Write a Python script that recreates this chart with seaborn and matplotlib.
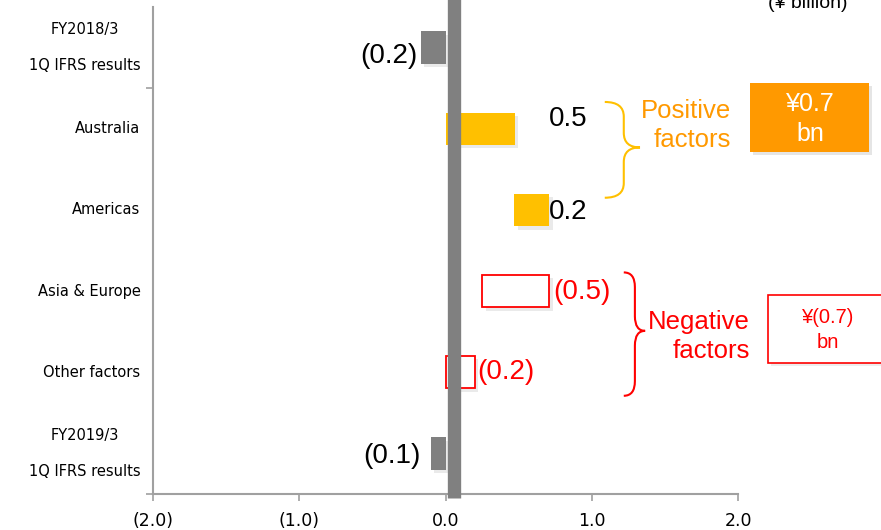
import matplotlib
matplotlib.use('Agg')
import matplotlib.pyplot as plt
import matplotlib.patheffects as pe
from matplotlib.path import Path
from matplotlib.patches import PathPatch, Rectangle
from matplotlib.ticker import FixedLocator, FuncFormatter
import seaborn as sns

# Waterfall data (¥ billion)
categories = ['FY2018/3\n1Q IFRS results', 'Australia', 'Americas',
              'Asia & Europe', 'Other factors', 'FY2019/3\n1Q IFRS results']
bar_start = [0.0, 0.0, 0.47, 0.71, 0.2, 0.0]
bar_end = [-0.17, 0.475, 0.71, 0.25, 0.0, -0.1]
value_labels = ['(0.2)', '0.5', '0.2', '(0.5)', '(0.2)', '(0.1)']
kinds = ['total', 'pos', 'pos', 'neg', 'neg', 'total']

GRAY = '#808080'
YELLOW = '#FFC000'
ORANGE = '#FF9900'
RED = '#FF0000'

sns.set_theme(style='white')
plt.rcParams['font.family'] = ['DejaVu Sans']
plt.rcParams['text.color'] = 'black'
plt.rcParams['xtick.color'] = 'black'
plt.rcParams['ytick.color'] = 'black'

fig = plt.figure(figsize=(8.81, 5.30), dpi=100)
ax = fig.add_axes([153 / 881, 1 - 494 / 530, (738 - 153) / 881, (494 - 7) / 530])

shadow = [pe.SimplePatchShadow(offset=(2.5, -2.5), shadow_rgbFace='#999999', alpha=0.2), pe.Normal()]

ypos = list(range(len(categories)))
for y, s, e, k in zip(ypos, bar_start, bar_end, kinds):
    left = min(s, e)
    width = abs(e - s)
    if k == 'total':
        b = ax.barh(y, width, left=left, height=0.4, color=GRAY, edgecolor='none')
    elif k == 'pos':
        b = ax.barh(y, width, left=left, height=0.4, color=YELLOW, edgecolor='none')
    else:
        b = ax.barh(y, width, left=left, height=0.4, facecolor='white',
                    edgecolor=RED, linewidth=1.3)
    for p in b.patches:
        p.set_path_effects(shadow)

# value labels
lab_font = dict(family='Liberation Sans', fontsize=20)
ax.text(bar_end[0] - 0.02, 0.1, value_labels[0], ha='right', va='center', color='black', **lab_font)
ax.text(0.71, 0.88, value_labels[1], ha='left', va='center', color='black', **lab_font)
ax.text(0.71, 2.02, value_labels[2], ha='left', va='center', color='black', **lab_font)
ax.text(0.74, 3.01, value_labels[3], ha='left', va='center', color=RED, **lab_font)
ax.text(0.22, 4.0, value_labels[4], ha='left', va='center', color=RED, **lab_font)
ax.text(bar_end[5] - 0.07, 5.03, value_labels[5], ha='right', va='center', color='black', **lab_font)

# thick gray bar near zero
ax.axvline(0.057, ymin=-0.008, ymax=1.03, color=GRAY, linewidth=9.6, clip_on=False,
           zorder=5, solid_capstyle='butt')


def brace(x0, xv, xtip, ytop, ymid, ybot, color):
    r = 0.18
    verts = [(x0, ytop), (xv, ytop), (xv, ytop + r),
             (xv, ymid - r), (xv, ymid), (xtip, ymid),
             (xv, ymid), (xv, ymid + r),
             (xv, ybot - r), (xv, ybot), (x0, ybot)]
    codes = [Path.MOVETO, Path.CURVE3, Path.CURVE3,
             Path.LINETO, Path.CURVE3, Path.CURVE3,
             Path.CURVE3, Path.CURVE3,
             Path.LINETO, Path.CURVE3, Path.CURVE3]
    ax.add_patch(PathPatch(Path(verts, codes), facecolor='none', edgecolor=color,
                           linewidth=1.5, clip_on=False))


brace(1.089, 1.219, 1.33, 0.67, 1.23, 1.85, YELLOW)
brace(1.219, 1.295, 1.365, 2.77, 3.49, 4.29, RED)

ax.text(1.952, 0.96, 'Positive\nfactors', ha='right', va='center', color=ORANGE,
        family='Liberation Sans', fontsize=18.5, linespacing=1.3, clip_on=False)
ax.text(2.082, 3.56, 'Negative\nfactors', ha='right', va='center', color=RED,
        family='Liberation Sans', fontsize=18.5, linespacing=1.3, clip_on=False)

# summary boxes (figure pixel space)
box_ax = fig.add_axes([0, 0, 1, 1], facecolor='none')
box_ax.set_xlim(0, 881)
box_ax.set_ylim(530, 0)
box_ax.axis('off')
box_ax.add_patch(Rectangle((753, 86), 119, 69, facecolor='#999999', alpha=0.25, edgecolor='none'))
box_ax.add_patch(Rectangle((750, 83), 119, 69, facecolor=ORANGE, edgecolor='none'))
box_ax.text(810, 119, '¥0.7\nbn', ha='center', va='center', color='white',
            family='Liberation Sans', fontsize=18, linespacing=1.3)
box_ax.add_patch(Rectangle((771, 298), 120, 68, facecolor='#BBBBBB', alpha=0.25, edgecolor='none'))
box_ax.add_patch(Rectangle((768, 295), 120, 68, facecolor='white', edgecolor=RED, linewidth=1.2))
box_ax.text(828, 330, '¥(0.7)\nbn', ha='center', va='center', color=RED,
            family='Liberation Sans', fontsize=14.5, linespacing=1.35)
box_ax.text(808, 12, '(¥ billion)', ha='center', va='bottom', color='black',
            family='Liberation Sans', fontsize=14)

# axes styling
ax.set_xlim(-2, 2)
ax.set_ylim(5.5, -0.5)
ax.set_yticks(ypos)
ax.set_yticklabels(categories, fontsize=10.5, linespacing=2.7, multialignment='center')
for t in ax.get_yticklabels():
    t.set_verticalalignment('center')
ax.yaxis.set_minor_locator(FixedLocator([0.5, 5.5]))
ax.tick_params(axis='y', which='major', length=0, pad=9)
ax.tick_params(axis='y', which='minor', length=5, width=1.2, color='#A0A0A0', left=True)
ax.set_xticks([-2, -1, 0, 1, 2])
ax.xaxis.set_major_formatter(FuncFormatter(lambda v, _: f'({abs(v):.1f})' if v < 0 else f'{v:.1f}'))
ax.tick_params(axis='x', length=5, width=1.2, color='#A0A0A0', labelcolor='black',
               labelsize=12.5, pad=8, bottom=True)
for side in ['top', 'right']:
    ax.spines[side].set_visible(False)
for side in ['left', 'bottom']:
    ax.spines[side].set_color('#A0A0A0')
    ax.spines[side].set_linewidth(1.5)
ax.grid(False)

fig.savefig('out.png', dpi=100)
